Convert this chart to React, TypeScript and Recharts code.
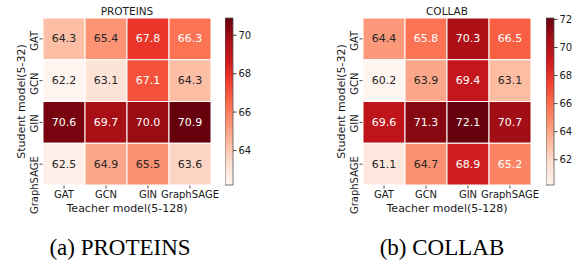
import React from "react";
import { ScatterChart, Scatter, XAxis, YAxis, BarChart, Bar, Label } from "recharts";

const teachers = ["GAT", "GCN", "GIN", "GraphSAGE"];
const students = ["GAT", "GCN", "GIN", "GraphSAGE"];

// PROTEINS, one array per student row (columns follow teachers)
const proteinsGAT = [64.3, 65.4, 67.8, 66.3];
const proteinsGCN = [62.2, 63.1, 67.1, 64.3];
const proteinsGIN = [70.6, 69.7, 70.0, 70.9];
const proteinsGraphSAGE = [62.5, 64.9, 65.5, 63.6];

// COLLAB
const collabGAT = [64.4, 65.8, 70.3, 66.5];
const collabGCN = [60.2, 63.9, 69.4, 63.1];
const collabGIN = [69.6, 71.3, 72.1, 70.7];
const collabGraphSAGE = [61.1, 64.7, 68.9, 65.2];

const proteinsTicks = [64, 66, 68, 70];
const collabTicks = [62, 64, 66, 68, 70, 72];

const FONT = "'DejaVu Sans', sans-serif";
const INK = "#1a1a1a";

// matplotlib "Reds"
const REDS = [
  "#fff5f0",
  "#fee0d2",
  "#fcbba1",
  "#fc9272",
  "#fb6a4a",
  "#ef3b2c",
  "#cb181d",
  "#a50f15",
  "#67000d",
];

function hexToRgb(h: string) {
  const n = parseInt(h.slice(1), 16);
  return [(n >> 16) & 255, (n >> 8) & 255, n & 255];
}

function reds(t: number) {
  const c = Math.max(0, Math.min(1, t)) * (REDS.length - 1);
  const i = Math.min(Math.floor(c), REDS.length - 2);
  const f = c - i;
  const a = hexToRgb(REDS[i]);
  const b = hexToRgb(REDS[i + 1]);
  return a.map((v, k) => Math.round(v + (b[k] - v) * f));
}

function lum(rgb: number[]) {
  const [r, g, b] = rgb.map((v) => {
    const s = v / 255;
    return s <= 0.03928 ? s / 12.92 : Math.pow((s + 0.055) / 1.055, 2.4);
  });
  return 0.2126 * r + 0.7152 * g + 0.0722 * b;
}

const CHART_W = 290;
const CHART_H = 230;
const Y_W = 43;
const X_H = 30;
const MARGIN = { top: 18, right: 79, bottom: 15, left: 0 };
const PLOT_W = CHART_W - MARGIN.left - MARGIN.right - Y_W;
const PLOT_H = CHART_H - MARGIN.top - MARGIN.bottom - X_H;
const PLOT_BOTTOM = CHART_H - MARGIN.bottom - X_H;

function YTick(props: any) {
  const { x, y, payload } = props;
  const ay = y - 8;
  return (
    <text
      x={x}
      y={ay}
      transform={`rotate(-90, ${x}, ${ay})`}
      textAnchor="end"
      fontSize={10}
      fill={INK}
      fontFamily={FONT}
    >
      {students[payload.value]}
    </text>
  );
}

function Heatmap({ rows, left }: { rows: number[][]; left: number }) {
  const values = rows.flat();
  const vmin = Math.min(...values);
  const vmax = Math.max(...values);
  const cells = rows.flatMap((row, si) =>
    row.map((v, ti) => ({ teacher: ti, student: si, value: v }))
  );
  const cw = PLOT_W / teachers.length;
  const ch = PLOT_H / students.length;

  const shape = (p: any) => {
    const { cx, cy, payload } = p;
    const rgb = reds((payload.value - vmin) / (vmax - vmin));
    const txt = lum(rgb) > 0.408 ? "#262626" : "#ffffff";
    return (
      <g>
        <rect
          x={cx - cw / 2}
          y={cy - ch / 2}
          width={cw}
          height={ch}
          fill={`rgb(${rgb.join(",")})`}
          stroke="#ffffff"
          strokeWidth={1}
        />
        <text
          x={cx}
          y={cy}
          textAnchor="middle"
          dominantBaseline="central"
          fontSize={11}
          fill={txt}
          fontFamily={FONT}
        >
          {payload.value.toFixed(1)}
        </text>
      </g>
    );
  };

  return (
    <div style={{ position: "absolute", left, top: 0 }}>
      <ScatterChart width={CHART_W} height={CHART_H} margin={MARGIN}>
        <XAxis
          type="number"
          dataKey="teacher"
          domain={[-0.5, teachers.length - 0.5]}
          ticks={teachers.map((_, i) => i)}
          tickFormatter={(i: number) => teachers[i]}
          interval={0}
          height={X_H}
          axisLine={false}
          tickSize={3.5}
          tickMargin={2}
          tickLine={{ stroke: INK, strokeWidth: 0.8 }}
          tick={{ fontSize: 10, fill: INK, fontFamily: FONT }}
        >
          <Label
            content={(lp: any) => {
              const vb = lp.viewBox;
              return (
                <text
                  x={vb.x + vb.width / 2}
                  y={vb.y + 27}
                  textAnchor="middle"
                  fontSize={11}
                  fill={INK}
                  fontFamily={FONT}
                >
                  Teacher model(5-128)
                </text>
              );
            }}
          />
        </XAxis>
        <YAxis
          type="number"
          dataKey="student"
          domain={[-0.5, students.length - 0.5]}
          ticks={students.map((_, i) => i)}
          reversed
          interval={0}
          width={Y_W}
          axisLine={false}
          tickSize={3.5}
          tickMargin={2}
          tickLine={{ stroke: INK, strokeWidth: 0.8 }}
          tick={<YTick />}
        >
          <Label
            content={(lp: any) => {
              const vb = lp.viewBox;
              const lx = vb.x + 21;
              const ly = vb.y + vb.height / 2;
              return (
                <text
                  x={lx}
                  y={ly}
                  transform={`rotate(-90, ${lx}, ${ly})`}
                  textAnchor="middle"
                  dominantBaseline="central"
                  fontSize={11}
                  fill={INK}
                  fontFamily={FONT}
                >
                  Student model(5-32)
                </text>
              );
            }}
          />
        </YAxis>
        <Scatter data={cells} shape={shape} isAnimationActive={false} />
      </ScatterChart>
    </div>
  );
}

function Colorbar({
  id,
  rows,
  ticks,
  left,
}: {
  id: string;
  rows: number[][];
  ticks: number[];
  left: number;
}) {
  const values = rows.flat();
  const vmin = Math.min(...values);
  const vmax = Math.max(...values);
  return (
    <div style={{ position: "absolute", left, top: 0 }}>
      <BarChart
        width={50}
        height={CHART_H}
        data={[{ name: "cb", range: [vmin, vmax] }]}
        margin={{ top: MARGIN.top, right: 0, bottom: CHART_H - PLOT_BOTTOM, left: 0 }}
        barCategoryGap={0}
        barGap={0}
      >
        <defs>
          <linearGradient id={id} x1="0" y1="1" x2="0" y2="0">
            {REDS.map((c, i) => (
              <stop key={i} offset={i / (REDS.length - 1)} stopColor={c} />
            ))}
          </linearGradient>
        </defs>
        <XAxis dataKey="name" hide />
        <YAxis
          orientation="right"
          type="number"
          domain={[vmin, vmax]}
          ticks={ticks}
          interval={0}
          width={42}
          axisLine={false}
          tickSize={3.5}
          tickMargin={2}
          tickLine={{ stroke: INK, strokeWidth: 0.8 }}
          tick={{ fontSize: 10, fill: INK, fontFamily: FONT }}
        />
        <Bar
          dataKey="range"
          fill={`url(#${id})`}
          stroke="#555555"
          strokeWidth={0.8}
          isAnimationActive={false}
        />
      </BarChart>
    </div>
  );
}

export default function App() {
  const proteins = [proteinsGAT, proteinsGCN, proteinsGIN, proteinsGraphSAGE];
  const collab = [collabGAT, collabGCN, collabGIN, collabGraphSAGE];
  const titleY = 15;
  return (
    <div
      style={{
        position: "absolute",
        left: 0,
        top: 0,
        width: 579,
        height: 263,
        background: "#ffffff",
        overflow: "hidden",
      }}
    >
      <Heatmap rows={proteins} left={0} />
      <Colorbar id="cbProteins" rows={proteins} ticks={proteinsTicks} left={225} />
      <Heatmap rows={collab} left={320} />
      <Colorbar id="cbCollab" rows={collab} ticks={collabTicks} left={546} />
      <svg
        width={579}
        height={263}
        style={{ position: "absolute", left: 0, top: 0, pointerEvents: "none" }}
      >
        <text x={Y_W + PLOT_W / 2} y={titleY} textAnchor="middle" fontSize={10.5} fill={INK} fontFamily={FONT}>
          PROTEINS
        </text>
        <text x={320 + Y_W + PLOT_W / 2} y={titleY} textAnchor="middle" fontSize={10.5} fill={INK} fontFamily={FONT}>
          COLLAB
        </text>
        <text x={120} y={255} textAnchor="middle" fontSize={23} fill="#000" fontFamily="'Liberation Serif', 'Times New Roman', serif">
          (a) PROTEINS
        </text>
        <text x={442} y={255} textAnchor="middle" fontSize={23} fill="#000" fontFamily="'Liberation Serif', 'Times New Roman', serif">
          (b) COLLAB
        </text>
      </svg>
    </div>
  );
}
